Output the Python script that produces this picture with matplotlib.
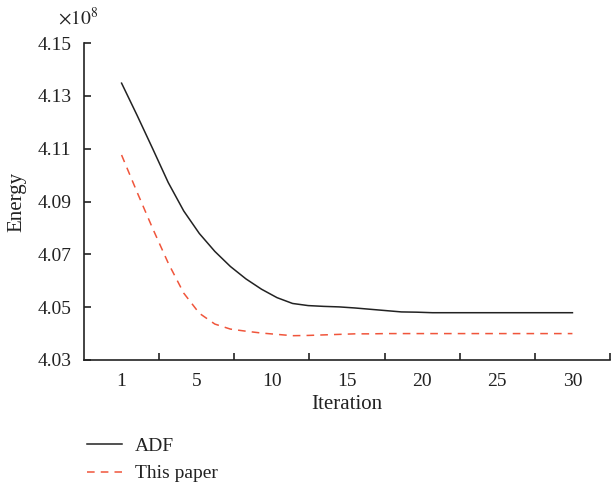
import numpy as np
import matplotlib
matplotlib.use("Agg")
import matplotlib.pyplot as plt

plt.rcParams['font.family'] = ['Liberation Serif', 'DejaVu Serif']
plt.rcParams['mathtext.fontset'] = 'stix'

# energy per iteration, in units of 1e8
iterations = np.arange(1, 31)
energy_adf = [4.1348, 4.1226, 4.1100, 4.0972, 4.0864, 4.0779, 4.0711, 4.0654,
              4.0607, 4.0568, 4.0536, 4.0514, 4.0506, 4.0503, 4.0501, 4.0497,
              4.0492, 4.0487, 4.0482, 4.0481, 4.0479, 4.0479, 4.0479, 4.0479,
              4.0479, 4.0479, 4.0479, 4.0479, 4.0479, 4.0479]
energy_ours = [4.1076, 4.0935, 4.0798, 4.0667, 4.0553, 4.0477, 4.0436, 4.0417,
               4.0409, 4.0402, 4.0397, 4.0392, 4.0393, 4.0395, 4.0397, 4.0399,
               4.0399, 4.0400, 4.0400, 4.0400, 4.0400, 4.0400, 4.0400, 4.0400,
               4.0400, 4.0400, 4.0400, 4.0400, 4.0400, 4.0400]

xtick_labels = ['1', '5', '10', '15', '20', '25', '30']
yticks = [4.03, 4.05, 4.07, 4.09, 4.11, 4.13, 4.15]

fs = 14
ink = '#222222'

fig = plt.figure(figsize=(6.11, 4.88), dpi=100)
ax = fig.add_axes([84 / 611, 128 / 488, 526 / 611, 317 / 488])

ax.plot(iterations, energy_adf, color=ink, lw=1.1, label='ADF')
ax.plot(iterations, energy_ours, color='#f0553b', lw=1.1, ls=(0, (5, 4)),
        label='This paper')

# seven bins, labels sit in the middle of each bin
n_bins = len(xtick_labels)
bin_w = (iterations[-1] - iterations[0]) / (n_bins - 1)
x0 = iterations[0] - bin_w / 2
ax.set_xlim(x0, x0 + n_bins * bin_w)
ax.set_xticks(x0 + bin_w * np.arange(1, n_bins + 1))
ax.set_xticklabels([])
ax.set_xticks(iterations[0] + bin_w * np.arange(n_bins), minor=True)
ax.set_xticklabels(xtick_labels, minor=True)
ax.tick_params(axis='x', which='minor', length=0, pad=9, labelsize=fs,
               colors=ink)
ax.tick_params(axis='x', which='major', direction='in', length=5, width=1.2,
               colors=ink)

ax.set_ylim(4.03, 4.15)
ax.set_yticks(yticks)
ax.set_yticklabels(['%.2f' % v for v in yticks])
ax.tick_params(axis='y', direction='in', length=5, width=1.2, pad=9,
               labelsize=fs, colors=ink)

for side in ['top', 'right']:
    ax.spines[side].set_visible(False)
for side in ['left', 'bottom']:
    ax.spines[side].set_linewidth(1.2)
    ax.spines[side].set_color(ink)

ax.set_xlabel('Iteration', fontsize=fs + 1, color=ink, labelpad=4)
ax.set_ylabel('Energy', fontsize=fs + 1, color=ink, labelpad=8)
ax.text(-0.05, 1.045, r'$\times 10^{8}$', transform=ax.transAxes,
        fontsize=14, color=ink, ha='left', va='bottom')

ax.legend(loc='upper left', bbox_to_anchor=(-0.01, -0.22), frameon=False,
          fontsize=fs, handlelength=1.8, handletextpad=0.7,
          labelspacing=0.5, borderaxespad=0, labelcolor=ink)

fig.savefig('out.png', dpi=100)
